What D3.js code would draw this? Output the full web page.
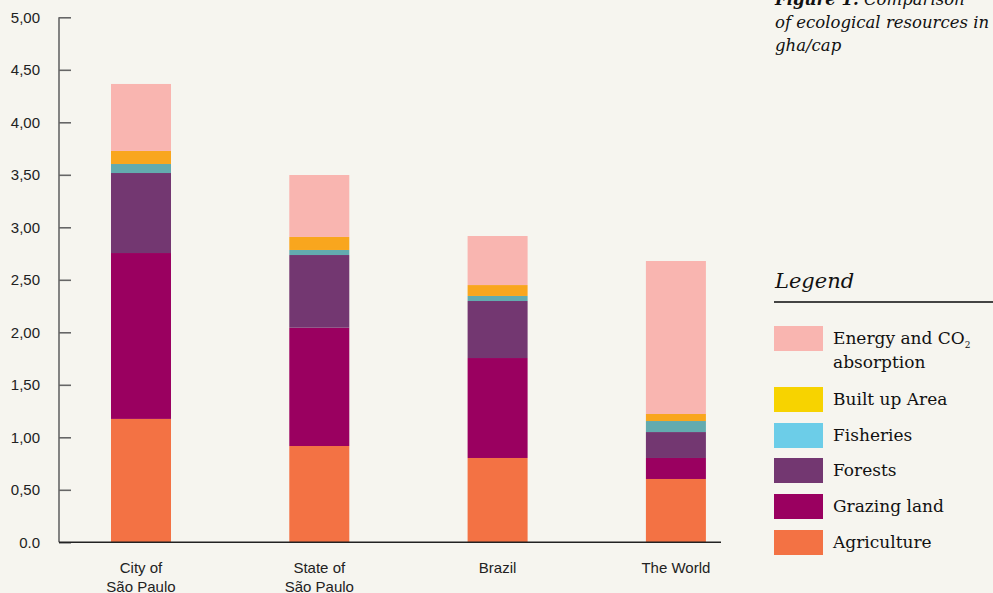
<!DOCTYPE html>
<html><head><meta charset="utf-8">
<script src="https://cdn.jsdelivr.net/npm/d3@7"></script>
<style>
html,body{margin:0;padding:0;background:#f6f5ef;}
svg{display:block;}
</style></head>
<body>
<script>
const categories = [["City of","São Paulo"],["State of","São Paulo"],["Brazil"],["The World"]];
const seriesNames = ["Agriculture","Grazing land","Forests","Fisheries","Built up Area","Energy and CO2 absorption"];
const agriculture = [1.175, 0.917, 0.803, 0.603];
const grazing     = [1.580, 1.127, 0.952, 0.200];
const forests     = [0.762, 0.692, 0.543, 0.247];
const fisheries   = [0.086, 0.048, 0.048, 0.105];
const builtUp     = [0.124, 0.124, 0.104, 0.067];
const energy      = [0.638, 0.590, 0.467, 1.457];
const tickValues  = [0,0.5,1,1.5,2,2.5,3,3.5,4,4.5,5];
const tickLabels  = ["0.0","0,50","1,00","1,50","2,00","2,50","3,00","3,50","4,00","4,50","5,00"];
const barColors    = ["#f37244","#9a0060","#733771","#63abaf","#f9a61e","#f9b5b0"];
const legendColors = ["#f37244","#9a0060","#733771","#6ccde8","#f7d300","#f9b5b0"];

const W=993,H=593;
const svg=d3.select("body").append("svg").attr("width",W).attr("height",H);
svg.append("rect").attr("width",W).attr("height",H).attr("fill","#f6f5ef");

const y=d3.scaleLinear().domain([0,5]).range([542.3,17.3]);
const x=d3.scaleBand().domain(d3.range(categories.length)).range([57.5,759.4]).paddingInner(0.6635).paddingOuter(0.3);

const rows=categories.map((c,i)=>({i,s0:agriculture[i],s1:grazing[i],s2:forests[i],s3:fisheries[i],s4:builtUp[i],s5:energy[i]}));
const stack=d3.stack().keys(["s0","s1","s2","s3","s4","s5"]);
const layers=stack(rows);

svg.append("g").selectAll("g").data(layers).join("g")
  .attr("fill",(d,k)=>barColors[k])
  .selectAll("rect").data(d=>d).join("rect")
  .attr("x",d=>x(d.data.i)).attr("width",x.bandwidth())
  .attr("y",d=>y(d[1])).attr("height",d=>y(d[0])-y(d[1]));

// y axis
const ya=svg.append("g").attr("transform","translate(59,0)")
  .call(d3.axisRight(y).tickValues(tickValues).tickSize(12).tickFormat(""));
ya.select(".domain").attr("stroke","#666").attr("stroke-width",1.6).attr("d","M0,"+y(5)+"V"+y(0));
ya.selectAll(".tick line").attr("stroke","#666").attr("stroke-width",1.6);
svg.append("g").selectAll("text").data(tickValues).join("text")
  .attr("x",40).attr("y",d=>y(d)).attr("dy","0.35em").attr("text-anchor","end")
  .attr("font-family","Liberation Sans, Arial, sans-serif").attr("font-size",15).attr("fill","#222")
  .text((d,i)=>tickLabels[i]);

// x axis
svg.append("line").attr("x1",59).attr("x2",721).attr("y1",y(0)).attr("y2",y(0)).attr("stroke","#222").attr("stroke-width",1.5);
const xl=svg.append("g").selectAll("text").data(categories).join("text")
  .attr("x",(d,i)=>x(i)+x.bandwidth()/2).attr("y",573).attr("text-anchor","middle")
  .attr("font-family","Liberation Sans, Arial, sans-serif").attr("font-size",15).attr("fill","#222");
xl.selectAll("tspan").data(d=>d).join("tspan")
  .attr("x",function(){return this.parentNode.getAttribute("x");})
  .attr("dy",(d,j)=>j?"1.25em":0).text(d=>d);

// title
const serif="DejaVu Serif, Georgia, serif";
const t=svg.append("g").attr("font-family",serif).attr("font-style","italic").attr("fill","#111").attr("font-size",16.5);
const t1=t.append("text").attr("x",775).attr("y",5);
t1.append("tspan").attr("font-weight","bold").text("Figure 1.");
t1.append("tspan").text(" Comparison");
t.append("text").attr("x",775).attr("y",28).text("of ecological resources in");
t.append("text").attr("x",775).attr("y",51).text("gha/cap");

// legend
svg.append("text").attr("x",775).attr("y",288).attr("font-family",serif).attr("font-style","italic")
  .attr("font-size",21).attr("fill","#111").text("Legend");
svg.append("line").attr("x1",774).attr("x2",993).attr("y1",302).attr("y2",302).attr("stroke","#444").attr("stroke-width",2);

const legendOrder=[5,4,3,2,1,0];
const legendY=[326,387,423,458,494,530];
const lg=svg.append("g").selectAll("g").data(legendOrder).join("g")
  .attr("transform",(d,i)=>`translate(774,${legendY[i]})`);
lg.append("rect").attr("width",49).attr("height",25).attr("fill",d=>legendColors[d]);
lg.each(function(d){
  const g=d3.select(this);
  const tx=g.append("text").attr("x",59).attr("y",18).attr("font-family",serif).attr("font-size",17).attr("fill","#111");
  if(d===5){
    tx.append("tspan").text("Energy and CO");
    tx.append("tspan").attr("font-size",9).attr("dy",4).text("2");
    g.append("text").attr("x",59).attr("y",42).attr("font-family",serif).attr("font-size",17).attr("fill","#111").text("absorption");
  } else tx.text(seriesNames[d]);
});
</script>
</body></html>
